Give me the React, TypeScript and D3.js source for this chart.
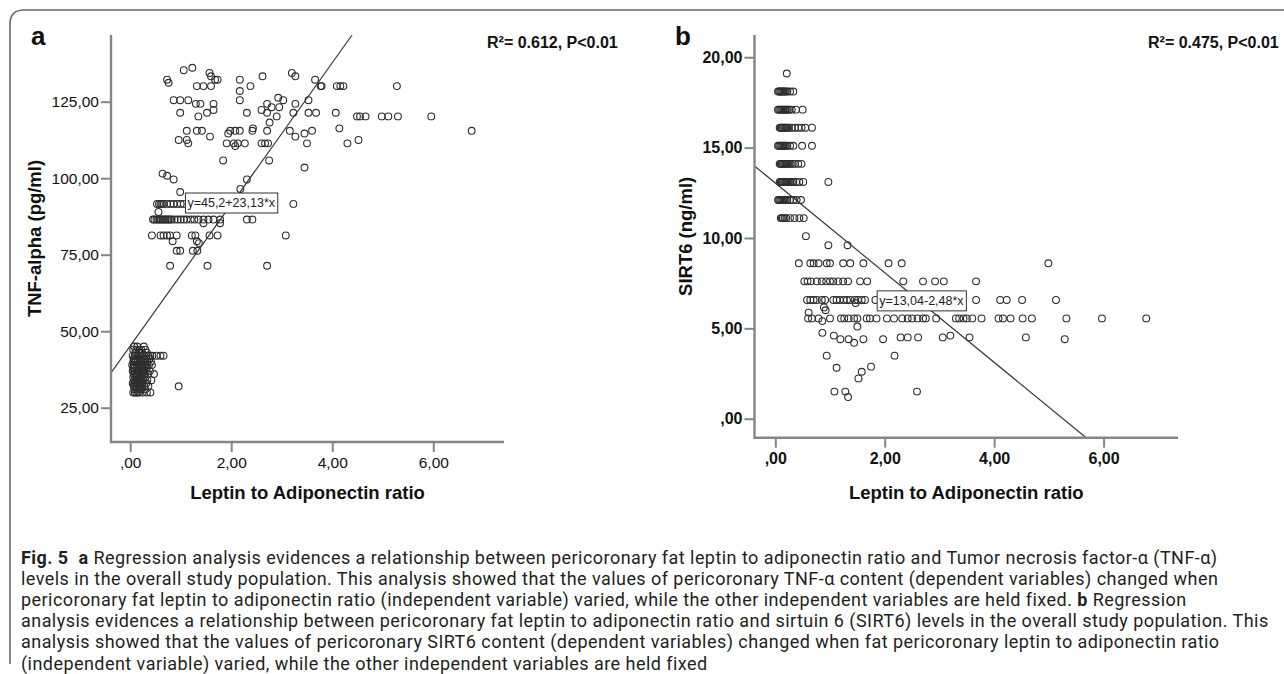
import { useRef, useEffect } from 'react';
import * as d3 from 'd3';

// [y value, x values at that y]
type Row = [number, number[]];

const ratioTicks = [0, 2, 4, 6];
const tnfTicks = [25, 50, 75, 100, 125];
const sirtTicks = [0, 5, 10, 15, 20];

// panel a, TNF-alpha (pg/ml)
const tnfLowRows: Row[] = [
  [45, [0.08, 0.14, 0.27]],
  [44, [0.06, 0.12, 0.18, 0.22, 0.3]],
  [43, [0.1, 0.16, 0.2, 0.24, 0.33]],
  [42, [0.05, 0.09, 0.12, 0.16, 0.2, 0.24, 0.28, 0.32, 0.36, 0.4, 0.44, 0.52, 0.6, 0.66]],
  [41, [0.07, 0.11, 0.15, 0.19, 0.23, 0.27, 0.31, 0.38]],
  [40, [0.06, 0.09, 0.11, 0.15, 0.19, 0.22, 0.26, 0.3, 0.34, 0.41]],
  [39, [0.04, 0.07, 0.09, 0.13, 0.17, 0.22, 0.25, 0.29, 0.33, 0.37, 0.43]],
  [38, [0.06, 0.08, 0.13, 0.17, 0.2, 0.24, 0.27, 0.33]],
  [37, [0.05, 0.09, 0.12, 0.15, 0.18, 0.22, 0.25, 0.28, 0.31, 0.39]],
  [36, [0.07, 0.1, 0.14, 0.18, 0.21, 0.25, 0.28, 0.35, 0.47]],
  [35, [0.06, 0.1, 0.13, 0.16, 0.2, 0.23, 0.3]],
  [34, [0.08, 0.12, 0.15, 0.19, 0.22, 0.26, 0.34, 0.42]],
  [33, [0.05, 0.08, 0.11, 0.15, 0.18, 0.21, 0.24, 0.32]],
  [32, [0.07, 0.1, 0.13, 0.17, 0.2, 0.24, 0.28, 0.36, 0.96]],
  [31, [0.09, 0.13, 0.16, 0.19, 0.22, 0.3]],
  [30, [0.06, 0.09, 0.12, 0.15, 0.18, 0.25, 0.33, 0.4]],
];

const tnfMidRows: Row[] = [
  [101.5, [0.64]],
  [100.8, [0.73]],
  [99.6, [0.86, 2.31]],
  [96.5, [2.18]],
  [95.5, [0.99]],
  [91.6, [0.53, 0.57, 0.6, 0.63, 0.66, 0.73, 0.8, 0.86, 0.93, 1.0, 1.06, 3.23]],
  [89.0, [0.56]],
  [86.5, [0.45, 0.48, 0.52, 0.55, 0.58, 0.61, 0.64, 0.67, 0.7, 0.73, 0.76, 0.79, 0.82, 0.88, 0.94, 1.0, 1.06, 1.12, 1.2, 1.27, 1.35, 1.45, 1.55, 1.65, 1.78, 2.31, 2.42]],
  [85.3, [1.45, 1.78]],
  [81.3, [0.43, 0.6, 0.66, 0.73, 0.79, 0.92, 1.22, 1.29, 1.57, 1.73, 3.08]],
  [79.4, [0.84, 1.32]],
  [78.8, [1.36]],
  [76.3, [0.92, 0.99, 1.24, 1.33]],
  [71.4, [0.79, 1.53, 2.71]],
];

const tnfHighRows: Row[] = [
  [136.1, [1.23]],
  [135.3, [1.06]],
  [134.4, [1.57, 3.2]],
  [133.3, [1.6, 2.62, 3.27]],
  [132.2, [0.73, 1.68, 1.73, 2.17, 3.66]],
  [131.2, [0.76]],
  [130.1, [1.32, 1.45, 1.6, 2.38, 3.77, 3.79, 4.09, 4.16, 4.22, 5.28]],
  [128.5, [2.17]],
  [126.3, [2.93]],
  [125.5, [0.86, 0.99, 1.15, 2.17, 3.03, 3.53]],
  [124.3, [1.3, 1.39, 1.65, 2.71, 3.27]],
  [123.2, [2.8, 2.95]],
  [122.3, [1.65, 2.6]],
  [121.4, [0.99, 1.52, 2.31, 2.71, 3.23, 3.53, 3.68, 4.07]],
  [120.2, [1.35, 2.9, 4.49, 4.55, 4.66, 4.98, 5.11, 5.3, 5.96]],
  [118.2, [2.76]],
  [116.3, [2.43, 4.14]],
  [115.5, [1.12, 1.32, 1.42, 1.98, 2.08, 2.17, 2.42, 2.71, 3.16, 3.6, 6.76]],
  [114.6, [1.94, 3.45]],
  [113.6, [1.58, 3.27]],
  [112.5, [0.96, 1.12, 4.52]],
  [111.4, [1.15, 1.91, 2.05, 2.13, 2.27, 2.6, 2.67, 2.73, 3.5, 4.3]],
  [110.5, [2.08]],
  [105.8, [1.84, 2.75]],
  [103.5, [3.45]],
];

// panel b, SIRT6 (ng/ml)
const sirtHighRows: Row[] = [
  [19.1, [0.21]],
  [18.1, [0.05, 0.07, 0.09, 0.11, 0.13, 0.15, 0.17, 0.19, 0.22, 0.27, 0.33]],
  [17.1, [0.05, 0.07, 0.09, 0.11, 0.13, 0.15, 0.17, 0.19, 0.21, 0.23, 0.26, 0.3, 0.38, 0.5]],
  [16.1, [0.08, 0.1, 0.12, 0.14, 0.16, 0.18, 0.2, 0.22, 0.25, 0.3, 0.36, 0.42, 0.48, 0.55, 0.67]],
  [15.1, [0.05, 0.07, 0.09, 0.11, 0.13, 0.15, 0.17, 0.19, 0.22, 0.27, 0.33, 0.49, 0.67]],
  [14.1, [0.08, 0.1, 0.12, 0.14, 0.16, 0.18, 0.2, 0.22, 0.25, 0.28, 0.32, 0.36, 0.42, 0.48]],
  [13.1, [0.08, 0.1, 0.12, 0.14, 0.16, 0.18, 0.2, 0.22, 0.24, 0.27, 0.3, 0.33, 0.38, 0.44, 0.51, 0.97]],
  [12.1, [0.05, 0.07, 0.09, 0.11, 0.13, 0.15, 0.17, 0.19, 0.22, 0.27, 0.33, 0.39, 0.47]],
  [11.1, [0.1, 0.12, 0.14, 0.17, 0.2, 0.27, 0.35, 0.44, 0.52]],
  [10.1, [0.56]],
  [9.6, [0.97, 1.32]],
];

const sirtLowRows: Row[] = [
  [8.6, [0.43, 0.64, 0.7, 0.79, 0.94, 1.0, 1.24, 1.37, 1.61, 2.07, 2.31, 4.99]],
  [7.6, [0.53, 0.59, 0.65, 0.76, 0.85, 0.93, 1.0, 1.06, 1.15, 1.24, 1.33, 1.55, 1.68, 2.34, 2.7, 2.92, 3.08, 3.67]],
  [6.57, [0.58, 0.64, 0.7, 0.76, 0.85, 0.91, 1.06, 1.12, 1.18, 1.25, 1.31, 1.37, 1.45, 1.51, 1.58, 1.64, 1.83, 3.38, 3.67, 4.11, 4.23, 4.51, 5.13]],
  [6.4, [1.47]],
  [6.16, [0.89]],
  [6.0, [0.92]],
  [5.87, [0.61]],
  [5.55, [0.6, 0.67, 0.79, 1.0, 1.2, 1.26, 1.34, 1.44, 1.5, 1.67, 1.73, 1.85, 2.04, 2.17, 2.32, 2.42, 2.5, 2.6, 2.7, 2.75, 2.94, 3.3, 3.36, 3.44, 3.5, 3.6, 3.77, 4.08, 4.16, 4.3, 4.52, 4.69, 5.32, 5.97, 6.78]],
  [5.4, [0.86]],
  [5.1, [1.5]],
  [4.75, [0.86]],
  [4.6, [1.07, 3.2]],
  [4.5, [2.29, 2.42, 2.61, 3.06, 3.55, 4.58]],
  [4.4, [1.19, 1.34, 1.61, 1.97, 5.29]],
  [4.2, [1.44]],
  [3.49, [0.94, 2.18]],
  [2.88, [1.75]],
  [2.82, [1.12]],
  [2.6, [1.58]],
  [2.23, [1.52]],
  [1.5, [1.08, 1.28, 2.59]],
  [1.2, [1.33]],
];

const captionLines: [string, boolean][][] = [
  [['Fig. 5', true], ['  ', false], ['a', true], [' Regression analysis evidences a relationship between pericoronary fat leptin to adiponectin ratio and Tumor necrosis factor-α (TNF-α)', false]],
  [['levels in the overall study population. This analysis showed that the values of pericoronary TNF-α content (dependent variables) changed when', false]],
  [['pericoronary fat leptin to adiponectin ratio (independent variable) varied, while the other independent variables are held fixed. ', false], ['b', true], [' Regression', false]],
  [['analysis evidences a relationship between pericoronary fat leptin to adiponectin ratio and sirtuin 6 (SIRT6) levels in the overall study population. This', false]],
  [['analysis showed that the values of pericoronary SIRT6 content (dependent variables) changed when fat pericoronary leptin to adiponectin ratio', false]],
  [['(independent variable) varied, while the other independent variables are held fixed', false]],
];

const FONT = '"Liberation Sans", Arial, sans-serif';
const AXIS_GRAY = '#858585';
const locale = d3.formatLocale({ decimal: ',', thousands: '.', grouping: [3], currency: ['', ''] });
const fmt2 = locale.format('.2f');
const tickFmt = (v: d3.NumberValue) => fmt2(+v).replace(/^0,/, ',');

interface Panel {
  letter: string;
  letterX: number;
  left: number;
  right: number;
  top: number;
  bottom: number;
  xDomain: [number, number];
  yDomain: [number, number];
  yTicks: number[];
  yTitle: string;
  yTitleX: number;
  rows: Row[];
  intercept: number;
  slope: number;
  eqLabel: string;
  eqAt: [number, number];
  stat: string;
  statX: number;
  tickWeight: string;
  tickSize: number;
}

const panels: Panel[] = [
  {
    letter: 'a', letterX: 31,
    left: 111, right: 504, top: 35, bottom: 442,
    xDomain: [-0.38, 7.4], yDomain: [13.8, 146.8],
    yTicks: tnfTicks, yTitle: 'TNF-alpha (pg/ml)', yTitleX: 41,
    rows: [...tnfLowRows, ...tnfMidRows, ...tnfHighRows],
    intercept: 45.2, slope: 23.13, eqLabel: 'y=45,2+23,13*x', eqAt: [2.0, 91.9],
    stat: 'R²= 0.612, P<0.01', statX: 487,
    tickWeight: 'normal', tickSize: 15.5,
  },
  {
    letter: 'b', letterX: 675,
    left: 754.5, right: 1178, top: 35, bottom: 437.7,
    xDomain: [-0.38, 7.36], yDomain: [-1.05, 21.23],
    yTicks: sirtTicks, yTitle: 'SIRT6 (ng/ml)', yTitleX: 692,
    rows: [...sirtHighRows, ...sirtLowRows],
    intercept: 13.04, slope: -2.48, eqLabel: 'y=13,04-2,48*x', eqAt: [2.67, 6.52],
    stat: 'R²= 0.475, P<0.01', statX: 1148,
    tickWeight: 'bold', tickSize: 16,
  },
];

function drawPanel(root: d3.Selection<SVGGElement, unknown, null, undefined>, p: Panel) {
  const x = d3.scaleLinear().domain(p.xDomain).range([p.left, p.right]);
  const y = d3.scaleLinear().domain(p.yDomain).range([p.bottom, p.top]);
  const g = root.append('g');

  // fit line, clipped to the plot box
  const a = p.intercept;
  const b = p.slope;
  const cross = [(p.yDomain[0] - a) / b, (p.yDomain[1] - a) / b];
  const lo = Math.max(p.xDomain[0], Math.min(...cross));
  const hi = Math.min(p.xDomain[1], Math.max(...cross));
  g.append('line')
    .attr('x1', x(lo)).attr('y1', y(a + b * lo))
    .attr('x2', x(hi)).attr('y2', y(a + b * hi))
    .attr('stroke', '#3a3a3a')
    .attr('stroke-width', 1.2);

  const pts = p.rows.flatMap(([yv, xs]) => xs.map((xv) => [xv, yv] as [number, number]));
  g.append('g')
    .selectAll('circle')
    .data(pts)
    .enter()
    .append('circle')
    .attr('cx', (d) => x(d[0]))
    .attr('cy', (d) => y(d[1]))
    .attr('r', 3.4)
    .attr('fill', 'none')
    .attr('stroke', '#2e2e2e')
    .attr('stroke-width', 1.1);

  // axes
  const yAxis = d3.axisLeft(y).tickValues(p.yTicks).tickSize(10).tickPadding(2).tickFormat(tickFmt);
  const ya = g.append('g').attr('transform', `translate(${p.left},0)`).call(yAxis);
  const xAxis = d3.axisBottom(x).tickValues(ratioTicks).tickSize(10).tickPadding(5).tickFormat(tickFmt);
  const xa = g.append('g').attr('transform', `translate(0,${p.bottom})`).call(xAxis);
  [ya, xa].forEach((ax) => {
    ax.select('.domain').remove();
    ax.selectAll('line').attr('stroke', AXIS_GRAY).attr('stroke-width', 2);
    ax.selectAll('text')
      .attr('font-family', FONT)
      .attr('font-size', p.tickSize)
      .attr('font-weight', p.tickWeight)
      .attr('fill', '#111');
  });
  g.append('path')
    .attr('d', `M${p.left},${p.top} V${p.bottom} H${p.right}`)
    .attr('fill', 'none')
    .attr('stroke', AXIS_GRAY)
    .attr('stroke-width', 2.4);

  const midY = (p.top + p.bottom) / 2;
  g.append('text')
    .attr('transform', `translate(${p.yTitleX},${midY}) rotate(-90)`)
    .attr('text-anchor', 'middle')
    .attr('font-family', FONT)
    .attr('font-weight', 'bold')
    .attr('font-size', 18.5)
    .attr('fill', '#111')
    .text(p.yTitle);

  g.append('text')
    .attr('x', (p.left + p.right) / 2)
    .attr('y', 499)
    .attr('text-anchor', 'middle')
    .attr('font-family', FONT)
    .attr('font-weight', 'bold')
    .attr('font-size', 18.5)
    .attr('fill', '#111')
    .text('Leptin to Adiponectin ratio');

  // equation label
  const eq = g.append('g');
  const eqText = eq.append('text')
    .attr('x', x(p.eqAt[0]))
    .attr('y', y(p.eqAt[1]))
    .attr('dy', '0.35em')
    .attr('text-anchor', 'middle')
    .attr('font-family', FONT)
    .attr('font-size', 12.5)
    .attr('fill', '#222')
    .text(p.eqLabel);
  const bb = (eqText.node() as SVGTextElement).getBBox();
  eq.insert('rect', 'text')
    .attr('x', bb.x - 2)
    .attr('y', y(p.eqAt[1]) - 10)
    .attr('width', bb.width + 4)
    .attr('height', 20)
    .attr('fill', '#fff')
    .attr('stroke', '#333')
    .attr('stroke-width', 1);

  g.append('text')
    .attr('x', p.letterX)
    .attr('y', 45)
    .attr('font-family', FONT)
    .attr('font-weight', 'bold')
    .attr('font-size', 26)
    .attr('fill', '#111')
    .text(p.letter);

  g.append('text')
    .attr('x', p.statX)
    .attr('y', 48)
    .attr('font-family', FONT)
    .attr('font-weight', 'bold')
    .attr('font-size', 16)
    .attr('fill', '#111')
    .text(p.stat);
}

const App = () => {
  const gRef = useRef<SVGGElement>(null);

  useEffect(() => {
    if (!gRef.current) return;
    const root = d3.select(gRef.current);
    root.selectAll('*').remove();
    panels.forEach((p) => drawPanel(root, p));
  }, []);

  return (
    <svg
      width={1284}
      height={674}
      style={{ position: 'absolute', left: 0, top: 0, background: '#fff' }}
    >
      <path d='M10,664 V24 Q10,10 24,10 H1284' fill='none' stroke='#6a6a6a' strokeWidth={1.6} />
      <g ref={gRef}></g>
      <g
        fontFamily='Roboto, "Liberation Sans", sans-serif'
        fontSize={18}
        letterSpacing={0.45}
        fill='#231f20'
      >
        {captionLines.map((line, i) => (
          <text key={i} x={21} y={564 + i * 21.1}>
            {line.map(([s, bold], j) => (
              <tspan key={j} fontWeight={bold ? 'bold' : 'normal'} style={{ whiteSpace: 'pre' }}>
                {s}
              </tspan>
            ))}
          </text>
        ))}
      </g>
    </svg>
  );
};

export default App;
